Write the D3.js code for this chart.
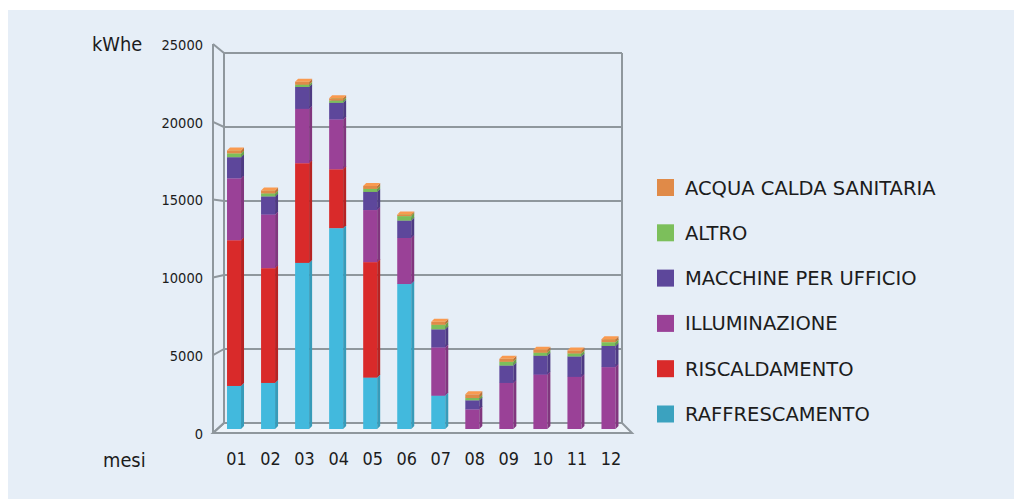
<!DOCTYPE html>
<html lang="it">
<head>
    <meta charset="UTF-8">
    <title>Consumi mensili</title>
    <script src="https://d3js.org/d3.v7.min.js"></script>
    <style>
        body { margin: 0; background: #fff; }
        text { font-family: "DejaVu Sans", sans-serif; fill: #1c1c1c; }
    </style>
</head>
<body>
    <svg width="1014" height="499"></svg>
    <script>
        // dati (kWhe)
        const months = ["01","02","03","04","05","06","07","08","09","10","11","12"];
        const raffrescamento = [2850,3050,11000,13300,3400,9600,2200,0,0,0,0,0];
        const riscaldamento  = [9650,7600,6600,3900,7650,0,0,0,0,0,0,0];
        const illuminazione  = [4100,3550,3600,3300,3450,3050,3200,1300,3050,3600,3450,4100];
        const macchine       = [1400,1200,1450,1100,1200,1150,1200,600,1150,1250,1350,1400];
        const altro          = [250,200,150,150,200,300,300,150,250,200,200,250];
        const acqua          = [200,200,200,150,200,100,200,250,200,200,200,200];
        const yTicks = [0,5000,10000,15000,20000,25000];

        const seriesNames = ["RAFFRESCAMENTO","RISCALDAMENTO","ILLUMINAZIONE","MACCHINE PER UFFICIO","ALTRO","ACQUA CALDA SANITARIA"];
        const seriesValues = [raffrescamento, riscaldamento, illuminazione, macchine, altro, acqua];
        const barColors = ["#42b9dd","#d92a2a","#9a4197","#5d479b","#7cbf5b","#e08a48"];
        const legendColors = ["#3ba2bf","#d92a2a","#9a4197","#5d479b","#7cbf5b","#e08a48"];

        const svg = d3.select("svg");

        // pannello di sfondo
        svg.append("rect")
            .attr("x", 8).attr("y", 10)
            .attr("width", 1006).attr("height", 489)
            .attr("fill", "#e6eef7");

        // scale: asse frontale, parete di fondo, barre
        const yFront = d3.scaleLinear().domain([0, 25000]).range([433, 44]);
        const yBack = d3.scaleLinear().domain([0, 25000]).range([423, 53]);
        const yBar = d3.scaleLinear().domain([0, 25000]).range([429, 51.5]);
        const x = d3.scalePoint().domain(months).range([218.5, 627]).padding(0.5);

        const xFront = 213, xBack = 224, xRight = 622, depth = 10;
        const gridColor = "#8f979d";

        const frame = svg.append("g")
            .attr("stroke", gridColor)
            .attr("stroke-width", 2)
            .attr("fill", "none");

        // pavimento
        frame.append("path")
            .attr("fill", "#edf3f9")
            .attr("d", `M${xFront},${yFront(0)}L${xRight + depth},${yFront(0)}L${xRight},${yBack(0)}L${xBack},${yBack(0)}Z`);

        // linee di griglia e raccordi
        yTicks.forEach(t => {
            frame.append("line")
                .attr("x1", xBack).attr("x2", xRight)
                .attr("y1", yBack(t)).attr("y2", yBack(t));
            frame.append("line")
                .attr("x1", xFront).attr("x2", xBack)
                .attr("y1", yFront(t)).attr("y2", yBack(t));
        });
        frame.append("line")
            .attr("x1", xFront).attr("x2", xFront)
            .attr("y1", yFront(25000)).attr("y2", yFront(0));
        frame.append("line")
            .attr("x1", xBack).attr("x2", xBack)
            .attr("y1", yBack(25000)).attr("y2", yBack(0));
        frame.append("line")
            .attr("x1", xRight).attr("x2", xRight)
            .attr("y1", yBack(25000)).attr("y2", yBack(0));

        // etichette asse Y
        function label(g, str, tx, ty, size, anchor, sx) {
            return g.append("text")
                .attr("transform", `translate(${tx},${ty}) scale(${sx},1)`)
                .attr("text-anchor", anchor)
                .attr("dominant-baseline", "central")
                .style("font-size", size + "px")
                .text(str);
        }
        yTicks.forEach(t => label(svg, t, 203, yFront(t) + 0.5, 14.5, "end", 0.9));
        label(svg, "kWhe", 92, 44, 19, "start", 0.94);
        label(svg, "mesi", 103, 460, 19, "start", 0.94);

        // barre impilate 3D
        const stack = d3.stack()
            .keys(d3.range(seriesValues.length))
            .value((m, k) => seriesValues[k][months.indexOf(m)]);
        const layers = stack(months);

        const w = 14, d = 3;
        const bars = svg.append("g");
        months.forEach((m, i) => {
            const x0 = x(m) - 8.5;
            layers.forEach((layer, k) => {
                const [v0, v1] = layer[i];
                if (v1 - v0 <= 0) return;
                const y0 = yBar(v0), y1 = yBar(v1);
                const c = barColors[k];
                bars.append("rect")
                    .attr("x", x0).attr("y", y1)
                    .attr("width", w).attr("height", y0 - y1)
                    .attr("fill", c);
                bars.append("path")
                    .attr("fill", d3.color(c).darker(0.5))
                    .attr("d", `M${x0 + w},${y0}L${x0 + w},${y1}L${x0 + w + d},${y1 - d}L${x0 + w + d},${y0 - d}Z`);
                bars.append("path")
                    .attr("fill", d3.color(c).brighter(0.3))
                    .attr("d", `M${x0},${y1}L${x0 + d},${y1 - d}L${x0 + w + d},${y1 - d}L${x0 + w},${y1}Z`);
            });
        });

        // etichette mesi
        months.forEach(m => label(svg, m, x(m) + 1, 459, 17.5, "middle", 0.92));

        // legenda
        const legend = svg.append("g");
        const legendY = d3.scalePoint()
            .domain(d3.range(seriesNames.length).reverse())
            .range([187.5, 414]);
        seriesNames.forEach((name, k) => {
            legend.append("rect")
                .attr("x", 657).attr("y", legendY(k) - 8.5)
                .attr("width", 17).attr("height", 17)
                .attr("fill", legendColors[k]);
            label(legend, name, 685, legendY(k) + 0.5, 19.5, "start", 1.0);
        });
    </script>
</body>
</html>
